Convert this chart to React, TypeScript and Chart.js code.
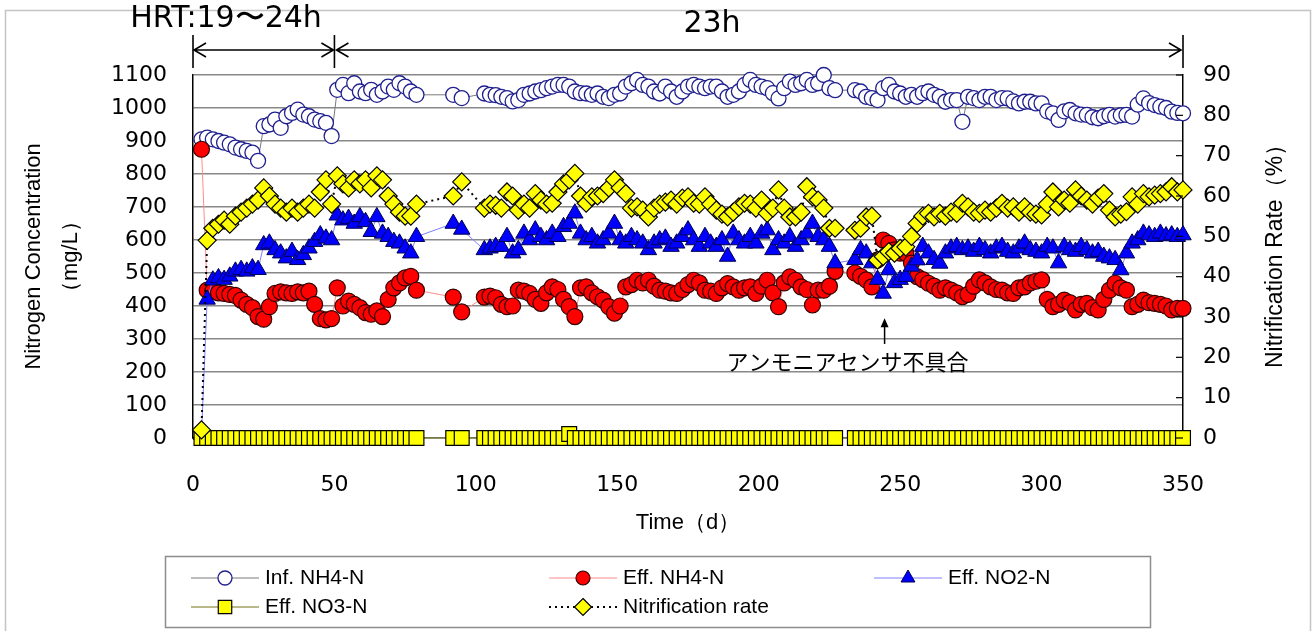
import React, { useEffect, useRef } from "react";
import { Chart, registerables } from "chart.js";

Chart.register(...registerables);

// ---- Data ----
const days = [
  3, 5, 7, 9, 11, 13, 15, 17, 19, 21, 23, 25, 27, 29, 31, 33, 35, 37, 39, 41,
  43, 45, 47, 49, 51, 53, 55, 57, 59, 61, 63, 65, 67, 69, 71, 73, 75, 77, 79,
  92, 95,
  103, 105, 107, 109, 111, 113, 115, 117, 119, 121, 123, 125, 127, 129, 131, 133, 135, 137, 139, 141,
  143, 145, 147, 149, 151, 153, 155, 157, 159, 161, 163, 165, 167, 169, 171, 173, 175, 177, 179, 181,
  183, 185, 187, 189, 191, 193, 195, 197, 199, 201, 203, 205, 207, 209, 211, 213, 215, 217, 219, 221,
  223, 225, 227,
  234, 236, 238, 240, 242, 244, 246, 248, 250, 252, 254, 256, 258, 260, 262, 264, 266, 268, 270, 272,
  274, 276, 278, 280, 282, 284, 286, 288, 290, 292, 294, 296, 298, 300, 302, 304, 306, 308, 310, 312,
  314, 316, 318, 320, 322, 324, 326, 328, 330, 332, 334, 336, 338, 340, 342, 344, 346, 348, 350,
];

const infNH4 = [
  905, 910, 905, 900, 895, 890, 880, 875, 870, 865, 840, 945, 950, 965, 940, 975, 985, 995, 980, 975,
  965, 960, 955, 915, 1055, 1070, 1045, 1075, 1050, 1045, 1055, 1040, 1050, 1065, 1055, 1075, 1065, 1050, 1040,
  1040, 1030,
  1044, 1040, 1039, 1034, 1030, 1020, 1024, 1040, 1044, 1050, 1054, 1060, 1065, 1070, 1070, 1065, 1050, 1045, 1044, 1040,
  1044, 1034, 1030, 1040, 1044, 1065, 1075, 1085, 1070, 1065, 1050, 1044, 1065, 1050, 1034, 1050, 1065, 1070, 1065, 1060,
  1065, 1065, 1050, 1034, 1040, 1050, 1070, 1085, 1070, 1065, 1060, 1045, 1029, 1060, 1080, 1070, 1075, 1085, 1070, 1075,
  1100, 1060, 1054,
  1054, 1050, 1034, 1030, 1024, 1060, 1070, 1050, 1044, 1034, 1040, 1034, 1045, 1050, 1040, 1034, 1019, 1024, 1024, 958,
  1034, 1030, 1024, 1034, 1034, 1024, 1030, 1029, 1020, 1014, 1019, 1019, 1014, 1014, 990, 984, 964, 990, 994, 984,
  980, 979, 972, 969, 975, 979, 974, 978, 979, 974, 1010, 1029, 1015, 1009, 1004, 1000, 989, 985, 984,
];

const effNH4 = [
  875, 448, 445, 440, 438, 435, 432, 418, 405, 395, 368, 360, 398, 438, 443, 440, 438, 443, 440, 445,
  405, 362, 358, 362, 455, 400, 415, 405, 395, 380, 375, 385, 368, 420, 455, 470, 485, 490, 448,
  427, 382,
  427, 430, 425, 405, 398, 400, 448, 445, 438, 420, 408, 440, 458, 450, 420, 398, 368, 455, 458, 440,
  428, 418, 398, 378, 400, 458, 465, 478, 470, 478, 460, 448, 445, 440, 438, 450, 465, 478, 470, 448,
  445, 438, 455, 468, 458, 448, 455, 458, 438, 460, 478, 440, 398, 470, 488, 478, 458, 450, 403, 448,
  448, 460, 505,
  500, 490, 479, 458, 540, 600, 590, 570, 560, 560, 530, 489, 480, 469, 460, 448, 455, 448, 440, 428,
  435, 460, 479, 470, 458, 450, 448, 440, 438, 455, 458, 470, 475, 479, 420, 398, 405, 418, 410, 388,
  405, 408, 395, 388, 420, 448, 469, 455, 448, 398, 405, 418, 410, 408, 405, 400, 388, 393, 393,
];

const effNO2 = [
  10, 420, 478, 485, 480, 490, 505, 510, 505, 515, 510, 585, 590, 570, 560, 545, 565, 540, 555, 575,
  595, 615, 605, 600, 675, 660, 665, 650, 670, 655, 625, 670, 620, 610, 595, 590, 575, 560, 610,
  650, 632,
  570, 575, 580, 580, 610, 560, 570, 620, 600, 630, 610, 600, 620, 610, 640, 650, 681, 620, 600, 610,
  590, 600, 620, 650, 600, 590, 610, 600, 590, 570, 590, 600, 605, 580, 590, 610, 630, 600, 580, 610,
  590, 580, 600, 550, 620, 600, 590, 610, 590, 620, 630, 570, 600, 590, 610, 580, 600, 620, 650, 610,
  600, 580, 530,
  540, 570, 560, 530, 480, 438, 509, 470, 480, 489, 520, 539, 580, 560, 540, 529, 560, 575, 580, 570,
  575, 565, 580, 570, 560, 575, 580, 565, 560, 575, 590, 570, 565, 560, 580, 575, 530, 580, 570, 565,
  580, 570, 560, 565, 550, 545, 540, 509, 560, 590, 600, 620, 615, 610, 620, 612, 615, 610, 615,
];

const effNO3 = [
  0, 0, 0, 0, 0, 0, 0, 0, 0, 0, 0, 0, 0, 0, 0, 0, 0, 0, 0, 0,
  0, 0, 0, 0, 0, 0, 0, 0, 0, 0, 0, 0, 0, 0, 0, 0, 0, 0, 0,
  0, 0,
  0, 0, 0, 0, 0, 0, 0, 0, 0, 0, 0, 0, 0, 0, 0, 12, 0, 0, 0, 0,
  0, 0, 0, 0, 0, 0, 0, 0, 0, 0, 0, 0, 0, 0, 0, 0, 0, 0, 0, 0,
  0, 0, 0, 0, 0, 0, 0, 0, 0, 0, 0, 0, 0, 0, 0, 0, 0, 0, 0, 0,
  0, 0, 0,
  0, 0, 0, 0, 0, 0, 0, 0, 0, 0, 0, 0, 0, 0, 0, 0, 0, 0, 0, 0,
  0, 0, 0, 0, 0, 0, 0, 0, 0, 0, 0, 0, 0, 0, 0, 0, 0, 0, 0, 0,
  0, 0, 0, 0, 0, 0, 0, 0, 0, 0, 0, 0, 0, 0, 0, 0, 0, 0, 0,
];

const nitrificationRate = [
  2, 49, 52, 53, 54, 53, 55, 56, 57, 58, 59, 62, 60, 58, 57, 56, 57, 56, 57, 58,
  57, 61, 64, 58, 65, 63, 62, 64, 63, 64, 62, 65, 64, 60, 58, 56, 55, 55, 58,
  60, 63.5,
  57, 58, 57.7, 57, 61, 60, 56.5, 58, 57, 60.6, 59, 58, 58.2, 61, 63, 64, 65.6, 60, 58.2, 59.8,
  60, 60.6, 62, 64, 62, 60.6, 57, 57.3, 56.5, 54.8, 57, 58, 58.5, 59, 58, 59.5, 59.8, 58.2, 58, 59.8,
  58, 56.5, 55.5, 54.8, 56, 57.3, 58.2, 58, 57, 59, 55.7, 57, 61.5, 57, 54.8, 54.8, 56, 62.3, 59.8, 59,
  57, 52, 52,
  51.5, 52, 54.8, 55, 44.1, 45, 46.2, 45.8, 47, 47.4, 50, 53.2, 55, 55.7, 54.8, 55.7, 55, 56, 55.7, 58.2,
  57.3, 56, 55.7, 56.5, 56, 57, 58.2, 57, 57.3, 56, 57.3, 56, 55.5, 55.3, 58, 61, 57.3, 59, 58.2, 61.5,
  60, 59, 58, 59.5, 60.6, 56.5, 54.8, 55.5, 56.1, 59.8, 58, 60.6, 59.8, 60.2, 60.6, 61, 62.3, 61, 61.5,
];

const seriesLabels = ["Inf. NH4-N", "Eff. NH4-N", "Eff. NO2-N", "Eff. NO3-N", "Nitrification rate"];
const hrtPeriods = ["HRT:19〜24h", "23h"];
const hrtBoundaryDays = [0, 50, 350];
const sensorNote = "アンモニアセンサ不具合";
const sensorNoteDay = 244.5;

const NUM_FONT = "'DejaVu Sans', sans-serif";
const TXT_FONT = "'Liberation Sans', Arial, sans-serif";
const JP_FONT = "'Noto Sans CJK JP', sans-serif";

function drawMarker(ctx: CanvasRenderingContext2D, style: string, x: number, y: number, r: number, fill: string, stroke: string, lw: number) {
  ctx.beginPath();
  if (style === "circle") ctx.arc(x, y, r, 0, Math.PI * 2);
  else if (style === "triangle") {
    ctx.moveTo(x, y - r);
    ctx.lineTo(x + r * 0.866, y + r * 0.5);
    ctx.lineTo(x - r * 0.866, y + r * 0.5);
    ctx.closePath();
  } else if (style === "rect") {
    const s = r * Math.SQRT1_2;
    ctx.rect(x - s, y - s, 2 * s, 2 * s);
  } else {
    ctx.moveTo(x, y - r);
    ctx.lineTo(x + r, y);
    ctx.lineTo(x, y + r);
    ctx.lineTo(x - r, y);
    ctx.closePath();
  }
  ctx.fillStyle = fill;
  ctx.fill();
  ctx.lineWidth = lw;
  ctx.strokeStyle = stroke;
  ctx.stroke();
}

const overlayPlugin = {
  id: "overlay",
  beforeDraw(chart: any) {
    const ctx = chart.ctx as CanvasRenderingContext2D;
    ctx.save();
    ctx.fillStyle = "#ffffff";
    ctx.fillRect(0, 0, chart.width, chart.height);
    ctx.strokeStyle = "#c4c4c4";
    ctx.lineWidth = 1.5;
    ctx.strokeRect(5.5, 10.5, 1305, 660);
    ctx.restore();
  },
  afterDraw(chart: any) {
    const ctx = chart.ctx as CanvasRenderingContext2D;
    const { chartArea, scales } = chart;
    const xs = scales.x, ys = scales.y, yr = scales.y1;
    ctx.save();

    // inward tick marks on right axis
    ctx.strokeStyle = "#000";
    ctx.lineWidth = 1.2;
    for (const t of yr.ticks) {
      const py = yr.getPixelForValue(t.value);
      ctx.beginPath();
      ctx.moveTo(chartArea.right - 7, py);
      ctx.lineTo(chartArea.right, py);
      ctx.stroke();
    }

    // right axis title
    ctx.save();
    ctx.translate(1276, (chartArea.top + chartArea.bottom) / 2 - 6);
    ctx.rotate(-Math.PI / 2);
    ctx.fillStyle = "#000";
    ctx.font = `23px ${TXT_FONT}`;
    ctx.textAlign = "center";
    ctx.textBaseline = "middle";
    ctx.fillText("Nitrification Rate（%）", 0, 0);
    ctx.restore();

    // HRT period arrows
    const bx = hrtBoundaryDays.map((d) => xs.getPixelForValue(d));
    const ay = 50;
    ctx.strokeStyle = "#000";
    ctx.lineWidth = 1.6;
    for (const b of bx) {
      ctx.beginPath();
      ctx.moveTo(b, 35);
      ctx.lineTo(b, 68);
      ctx.stroke();
    }
    const arrow = (x1: number, x2: number) => {
      ctx.beginPath();
      ctx.moveTo(x1, ay);
      ctx.lineTo(x2, ay);
      ctx.moveTo(x1 + 12, ay - 7);
      ctx.lineTo(x1, ay);
      ctx.lineTo(x1 + 12, ay + 7);
      ctx.moveTo(x2 - 12, ay - 7);
      ctx.lineTo(x2, ay);
      ctx.lineTo(x2 - 12, ay + 7);
      ctx.stroke();
    };
    arrow(bx[0] + 1, bx[1] - 1);
    arrow(bx[1] + 2, bx[2] - 2);
    ctx.fillStyle = "#000";
    ctx.font = `30px ${NUM_FONT}`;
    ctx.textAlign = "center";
    ctx.textBaseline = "middle";
    ctx.fillText(hrtPeriods[0], 226, 19);
    ctx.fillText(hrtPeriods[1], 712, 24);

    // sensor malfunction note
    const ax = xs.getPixelForValue(sensorNoteDay);
    const tipY = ys.getPixelForValue(363);
    const tailY = ys.getPixelForValue(285);
    ctx.lineWidth = 1.5;
    ctx.beginPath();
    ctx.moveTo(ax, tailY);
    ctx.lineTo(ax, tipY + 6);
    ctx.stroke();
    ctx.beginPath();
    ctx.moveTo(ax, tipY);
    ctx.lineTo(ax - 4, tipY + 9);
    ctx.lineTo(ax + 4, tipY + 9);
    ctx.closePath();
    ctx.fill();
    ctx.font = `22px ${JP_FONT}`;
    ctx.textAlign = "left";
    ctx.fillText(sensorNote, xs.getPixelForValue(188.6), ys.getPixelForValue(232));

    // legend
    const ds = chart.data.datasets;
    ctx.strokeStyle = "#8c8c8c";
    ctx.lineWidth = 1.5;
    ctx.strokeRect(165.5, 556.5, 985, 71);
    const cols = [225, 583, 908];
    const rows = [578, 607];
    const markerR: Record<string, number> = { circle: 7, triangle: 8, rect: 9.5, rectRot: 8.5 };
    for (let i = 0; i < ds.length; i++) {
      const d = ds[i];
      const cx = cols[i % 3];
      const cy = rows[Math.floor(i / 3)];
      ctx.save();
      ctx.strokeStyle = d.borderColor;
      ctx.lineWidth = d.borderWidth;
      ctx.setLineDash(d.borderDash || []);
      ctx.beginPath();
      ctx.moveTo(cx - 34, cy);
      ctx.lineTo(cx + 34, cy);
      ctx.stroke();
      ctx.restore();
      drawMarker(ctx, d.pointStyle, cx, cy, markerR[d.pointStyle], d.pointBackgroundColor, d.pointBorderColor, d.pointBorderWidth);
      ctx.fillStyle = "#000";
      ctx.font = `21px ${TXT_FONT}`;
      ctx.textAlign = "left";
      ctx.textBaseline = "middle";
      ctx.fillText(d.label, cx + 40, cy);
    }
    ctx.restore();
  },
};

export default function App() {
  const ref = useRef<HTMLCanvasElement>(null);
  useEffect(() => {
    document.body.style.margin = "0";
    const canvas = ref.current!;
    const mk = (vals: number[]) => days.map((d, i) => ({ x: d, y: vals[i] }));
    const plain = (v: any) => String(v);
    const chart = new Chart(canvas, {
      type: "line",
      data: {
        datasets: [
          {
            label: seriesLabels[0], data: mk(infNH4), yAxisID: "y",
            borderColor: "#7a7a7a", borderWidth: 1,
            pointStyle: "circle", pointRadius: 7.5, pointBackgroundColor: "#ffffff",
            pointBorderColor: "#1f1f8f", pointBorderWidth: 1.3, order: 4, clip: false,
          },
          {
            label: seriesLabels[1], data: mk(effNH4), yAxisID: "y",
            borderColor: "#ff8c8c", borderWidth: 1,
            pointStyle: "circle", pointRadius: 8, pointBackgroundColor: "#ff0000",
            pointBorderColor: "#300000", pointBorderWidth: 1.2, order: 3, clip: false,
          },
          {
            label: seriesLabels[2], data: mk(effNO2), yAxisID: "y",
            borderColor: "#8080ff", borderWidth: 1,
            pointStyle: "triangle", pointRadius: 9.5, pointBackgroundColor: "#0000ff",
            pointBorderColor: "#000050", pointBorderWidth: 1, order: 2, clip: false,
          },
          {
            label: seriesLabels[3], data: mk(effNO3), yAxisID: "y",
            borderColor: "#a0a060", borderWidth: 1.5,
            pointStyle: "rect", pointRadius: 10.5, pointBackgroundColor: "#ffff00",
            pointBorderColor: "#000000", pointBorderWidth: 1.2, order: 1, clip: false,
          },
          {
            label: seriesLabels[4], data: mk(nitrificationRate), yAxisID: "y1",
            borderColor: "#000000", borderWidth: 2, borderDash: [2, 4],
            pointStyle: "rectRot", pointRadius: 9, pointBackgroundColor: "#ffff00",
            pointBorderColor: "#000000", pointBorderWidth: 1.2, order: 0, clip: false,
          },
        ] as any,
      },
      options: {
        animation: false,
        responsive: false,
        maintainAspectRatio: false,
        layout: { padding: { top: 75, left: 0, right: 0, bottom: 95 } },
        plugins: { legend: { display: false }, tooltip: { enabled: false } },
        scales: {
          x: {
            type: "linear", min: 0, max: 350,
            afterFit: (s: any) => { s.height = 98; },
            ticks: { stepSize: 50, color: "#000", font: { family: NUM_FONT, size: 22 }, padding: 34, maxRotation: 0, callback: plain },
            grid: { display: false, drawTicks: false },
            border: { color: "#000", width: 1.5 },
            title: { display: true, text: "Time（d）", color: "#000", font: { family: TXT_FONT, size: 22 }, padding: { top: 0, bottom: 0 } },
          },
          y: {
            position: "left", min: 0, max: 1100,
            afterFit: (s: any) => { s.width = 193; },
            ticks: { stepSize: 100, color: "#000", font: { family: NUM_FONT, size: 22 }, padding: 26, callback: plain },
            grid: { color: "#888888", lineWidth: 1.5, drawTicks: false },
            border: { color: "#000", width: 1.5 },
            title: {
              display: true, text: ["Nitrogen Concentration", "（mg/L）"], color: "#000",
              font: { family: TXT_FONT, size: 22, lineHeight: 1.65 }, padding: { top: 16, bottom: 0 },
            },
          },
          y1: {
            position: "right", min: 0, max: 90,
            afterFit: (s: any) => { s.width = 131; },
            ticks: { stepSize: 10, color: "#000", font: { family: NUM_FONT, size: 22 }, padding: 20, callback: plain },
            grid: { drawOnChartArea: false, drawTicks: false },
            border: { color: "#000", width: 1.5 },
          },
        },
      } as any,
      plugins: [overlayPlugin],
    });
    return () => chart.destroy();
  }, []);
  return (
    <div style={{ width: 1314, height: 631 }}>
      <canvas ref={ref} width={1314} height={631} style={{ display: "block" }} />
    </div>
  );
}
